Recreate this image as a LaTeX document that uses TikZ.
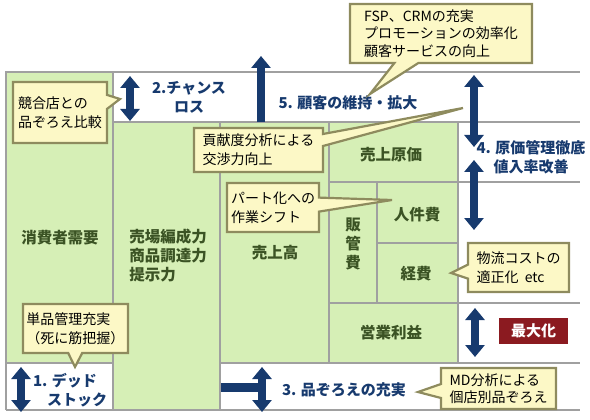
\documentclass[tikz,border=0pt]{standalone}
\usepackage{fontspec}
\setmainfont{Noto Sans CJK JP}
\usetikzlibrary{arrows.meta,shapes.callouts}
\definecolor{gfill}{HTML}{D6EFB6}
\definecolor{gline}{HTML}{A0A0A0}
\definecolor{gtext}{HTML}{3B5324}
\definecolor{navy}{HTML}{173A6E}
\definecolor{cfill}{HTML}{FCF8C6}
\definecolor{cline}{HTML}{8E8B5E}
\definecolor{dred}{HTML}{8B1A20}
\tikzset{
  cell/.style={fill=gfill, draw=none},
  gridline/.style={draw=gline, line width=2.5pt},
  glabel/.style={text=gtext, font=\fontsize{15.5}{19}\selectfont\bfseries, align=center, inner sep=0pt},
  nlabel/.style={text=navy, font=\fontsize{15}{19}\selectfont\bfseries, inner sep=0pt},
  callbox/.style={rectangle callout, fill=cfill, draw=cline, line width=2.2pt, inner sep=0pt,
     align=left, font=\fontsize{14}{19}\selectfont, callout pointer width=14pt},
  dblarrow/.style={draw=navy, line width=8pt, {Triangle[length=12pt,width=19pt]}-{Triangle[length=12pt,width=19pt]}},
  uparrow/.style={draw=navy, line width=8pt, -{Triangle[length=12pt,width=19pt]}},
  bar/.style={draw=navy, line width=9pt}
}
\begin{document}
\begin{tikzpicture}[x=1pt,y=-1pt]
\useasboundingbox (0,0) rectangle (590,420);
% green cells
\fill[cell] (6,72) rectangle (113,363);
\fill[cell] (113,122) rectangle (220,410);
\fill[cell] (220,122) rectangle (329,363);
\fill[cell] (329,122) rectangle (458,363);
% grid lines
\draw[gridline] (6,410) -- (6,72) -- (580,72);
\draw[gridline] (6,410) -- (580,410);
\draw[gridline] (113,122) -- (580,122);
\draw[gridline] (329,182) -- (580,182);
\draw[gridline] (329,303) -- (580,303);
\draw[gridline] (6,363) -- (113,363);
\draw[gridline] (220,363) -- (580,363);
\draw[gridline] (377,243) -- (458,243);
\draw[gridline] (113,72) -- (113,410);
\draw[gridline] (220,122) -- (220,410);
\draw[gridline] (329,122) -- (329,363);
\draw[gridline] (377,182) -- (377,303);
\draw[gridline] (458,122) -- (458,363);
% green labels
\node[glabel] (demand) at (60,238) {消費者需要};
\node[glabel, align=left] (power) at (168,256) {売場編成力\\商品調達力\\提示力};
\node[glabel] (sales) at (275,253) {売上高};
\node[glabel] (cogs) at (391,155) {売上原価};
\node[glabel] (sga) at (353,244) {販\\管\\費};
\node[glabel] (labor) at (417,215) {人件費};
\node[glabel] (expense) at (416,274) {経費};
\node[glabel] (profit) at (391,333) {営業利益};
% arrows
\coordinate (a1t) at (21,367); \coordinate (a1b) at (21,412);
\draw[dblarrow] (a1t) -- (a1b);
\coordinate (a2t) at (130,76); \coordinate (a2b) at (130,121);
\draw[dblarrow] (a2t) -- (a2b);
\coordinate (a5b) at (261,122); \coordinate (a5t) at (261,56);
\draw[uparrow] (a5b) -- (a5t);
\coordinate (a4t) at (474,75); \coordinate (a4m) at (474,147);
\draw[dblarrow] (a4t) -- (a4m);
\coordinate (a4n) at (474,160); \coordinate (a4b) at (474,230);
\draw[dblarrow] (a4n) -- (a4b);
\coordinate (amt) at (475,308); \coordinate (amb) at (475,357);
\draw[dblarrow] (amt) -- (amb);
\coordinate (a3l) at (221,387); \coordinate (a3c) at (262,387);
\draw[bar] (a3l) -- (a3c);
\coordinate (a3t) at (262,367); \coordinate (a3b) at (262,412);
\draw[dblarrow] (a3t) -- (a3b);
% navy labels
\node[nlabel, align=center] (l2) at (189,97) {2.チャンス\\ロス};
\node[nlabel] (l5) at (348,103) {5. 顧客の維持・拡大};
\node[nlabel, align=center] (l4) at (531,157) {4. 原価管理徹底\\値入率改善};
\node[nlabel, align=left] (l1) at (70,390) {1. デッド\\\hspace{14pt}ストック};
\node[nlabel] (l3) at (344,390) {3. 品ぞろえの充実};
\node[fill=dred, text=white, font=\fontsize{15}{18}\selectfont\bfseries, minimum width=69pt, minimum height=26pt, inner sep=0pt] (max) at (533.5,331) {最大化};
% callouts
\node[callbox, minimum width=94pt, minimum height=61pt, callout absolute pointer={(120,99)}] (c1) at (60,112.5) {競合店との\\品ぞろえ比較};
\node[callbox, minimum width=129pt, minimum height=44pt, callout pointer width=12pt, callout absolute pointer={(463,108)}] (c2) at (258.5,150) {貢献度分析による\\交渉力向上};
\node[callbox, minimum width=92pt, minimum height=49pt, callout absolute pointer={(392,200)}] (c3) at (273,207.5) {パート化への\\作業シフト};
\node[callbox, minimum width=182pt, minimum height=59pt, callout pointer width=24pt, font=\fontsize{14}{17.5}\selectfont, callout absolute pointer={(370,94)}] (c4) at (441,33.5) {FSP、CRMの充実\\プロモーションの効率化\\顧客サービスの向上};
\node[callbox, minimum width=105pt, minimum height=49pt, callout absolute pointer={(75,367)}] (c5) at (75.5,328.5) {単品管理充実\\（死に筋把握）};
\node[callbox, minimum width=101pt, minimum height=49pt, callout absolute pointer={(451,273)}] (c6) at (518.5,267.5) {物流コストの\\適正化\ \ etc};
\node[callbox, minimum width=115pt, minimum height=41pt, font=\fontsize{14}{17}\selectfont, callout absolute pointer={(418,392)}] (c7) at (498.5,388.5) {MD分析による\\個店別品ぞろえ};
\end{tikzpicture}
\end{document}
